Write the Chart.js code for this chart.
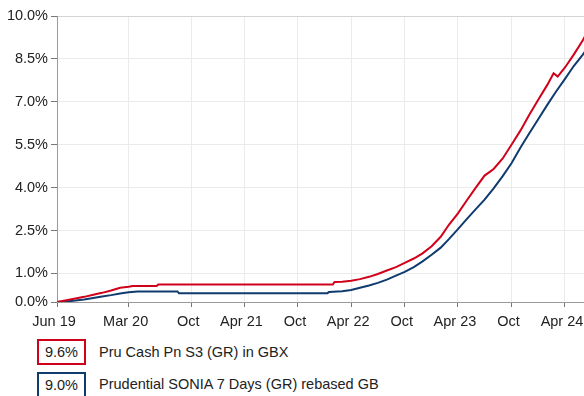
<!DOCTYPE html>
<html>
<head>
<meta charset="utf-8">
<script src="https://cdn.jsdelivr.net/npm/chart.js@4.4.1/dist/chart.umd.min.js"></script>
<style>
  html, body { margin: 0; padding: 0; background: #fff; overflow: hidden; }
  body { width: 584px; height: 396px; position: relative; font-family: "Liberation Sans", Arial, sans-serif; font-size: 14.5px; color: #222; }
  #wrap { position: absolute; left: 0; top: 0; width: 584px; height: 336px; }
  .box { position: absolute; left: 37px; width: 45px; height: 22px; border: 2px solid; text-align: right; box-sizing: content-box; }
  .box span { display: block; padding-right: 6px; line-height: 23px; }
  .lbl { position: absolute; left: 99px; line-height: 16px; white-space: nowrap; }
</style>
</head>
<body>
<div id="wrap"><canvas id="chart"></canvas></div>
<div class="box" id="box0" style="top:339px"><span id="val0"></span></div>
<div class="lbl" id="lbl0" style="top:344px"></div>
<div class="box" id="box1" style="top:372px"><span id="val1"></span></div>
<div class="lbl" id="lbl1" style="top:376px"></div>
<script>
// series names and colours
let seriesNames = ["Pru Cash Pn S3 (GR) in GBX", "Prudential SONIA 7 Days (GR) rebased GB"];
let seriesColors = ["#d0021b", "#0f3b6f"];

// Pru Cash Pn S3 (GR) in GBX, cumulative % growth
let redDates = [
  "2019-06-30", "2019-08-01", "2019-09-01", "2019-10-01", "2019-11-01", "2019-12-01",
  "2020-01-01", "2020-02-01", "2020-03-01", "2020-03-15", "2020-06-05", "2020-06-10",
  "2022-01-28", "2022-02-03", "2022-03-01", "2022-04-01", "2022-05-01", "2022-06-01",
  "2022-07-01", "2022-08-01", "2022-09-01", "2022-10-01", "2022-11-01", "2022-12-01",
  "2023-01-01", "2023-02-01", "2023-03-01", "2023-04-01", "2023-05-01", "2023-06-01",
  "2023-07-01", "2023-07-20", "2023-08-01", "2023-09-01", "2023-10-01", "2023-11-01",
  "2023-12-01", "2024-01-01", "2024-02-01", "2024-02-22", "2024-03-07", "2024-04-01",
  "2024-05-01", "2024-06-01", "2024-06-25"
];
let redValues = [
  0.00, 0.06, 0.12, 0.18, 0.25, 0.32,
  0.40, 0.50, 0.53, 0.56, 0.56, 0.61,
  0.61, 0.70, 0.71, 0.74, 0.80, 0.88,
  0.98, 1.10, 1.22, 1.37, 1.52, 1.70,
  1.95, 2.28, 2.70, 3.10, 3.55, 4.00,
  4.42, 4.56, 4.65, 5.02, 5.50, 6.00,
  6.55, 7.08, 7.60, 8.00, 7.88, 8.20,
  8.65, 9.15, 9.60
];

// Prudential SONIA 7 Days (GR) rebased, cumulative % growth
let blueDates = [
  "2019-06-30", "2019-08-01", "2019-09-01", "2019-10-01", "2019-11-01", "2019-12-01",
  "2020-01-01", "2020-02-01", "2020-03-01", "2020-04-01", "2020-08-15", "2020-08-20",
  "2022-01-10", "2022-01-15", "2022-03-01", "2022-04-01", "2022-05-01", "2022-06-01",
  "2022-07-01", "2022-08-01", "2022-09-01", "2022-10-01", "2022-11-01", "2022-12-01",
  "2023-01-01", "2023-02-01", "2023-03-01", "2023-04-01", "2023-05-01", "2023-06-01",
  "2023-07-01", "2023-08-01", "2023-09-01", "2023-10-01", "2023-11-01", "2023-12-01",
  "2024-01-01", "2024-02-01", "2024-03-01", "2024-04-01", "2024-05-01", "2024-06-01",
  "2024-06-25"
];
let blueValues = [
  0.00, 0.02, 0.05, 0.09, 0.14, 0.19,
  0.24, 0.30, 0.34, 0.37, 0.37, 0.31,
  0.31, 0.35, 0.38, 0.42, 0.50, 0.58,
  0.67, 0.78, 0.92, 1.05, 1.22, 1.42,
  1.65, 1.90, 2.20, 2.55, 2.90, 3.25,
  3.58, 3.97, 4.40, 4.85, 5.40, 5.90,
  6.40, 6.90, 7.35, 7.80, 8.25, 8.65,
  9.00
];

// axes
let xTickDates = ["2019-06-30", "2020-03-01", "2020-10-01", "2021-04-01", "2021-10-01",
                  "2022-04-01", "2022-10-01", "2023-04-01", "2023-10-01", "2024-04-01"];
let xTickLabels = ["Jun 19", "Mar 20", "Oct", "Apr 21", "Oct", "Apr 22", "Oct", "Apr 23", "Oct", "Apr 24"];
let xEndDate = "2024-06-05";
let yTicks = [0, 1, 2.5, 4, 5.5, 7, 8.5, 10];

let startDay = dayNum(redDates[0]);

function dayNum(s) {
  let p = s.split("-");
  return Date.UTC(+p[0], +p[1] - 1, +p[2]) / 86400000;
}

function toPoints(dates, values) {
  return dates.map((d, i) => ({x: dayNum(d) - startDay, y: values[i]}));
}

let xTickPos = xTickDates.map(d => dayNum(d) - startDay);

// legend below the chart
[redValues, blueValues].forEach((vals, i) => {
  document.getElementById("box" + i).style.borderColor = seriesColors[i];
  document.getElementById("val" + i).innerText = vals[vals.length - 1].toFixed(1) + "%";
  document.getElementById("lbl" + i).innerText = seriesNames[i];
});

let font = {family: "'Liberation Sans', Arial, sans-serif", size: 14.5};

new Chart(document.getElementById("chart"), {
  type: "line",
  data: {
    datasets: [
      {label: seriesNames[0], data: toPoints(redDates, redValues), borderColor: seriesColors[0], borderWidth: 2, pointRadius: 0, tension: 0},
      {label: seriesNames[1], data: toPoints(blueDates, blueValues), borderColor: seriesColors[1], borderWidth: 2, pointRadius: 0, tension: 0}
    ]
  },
  options: {
    responsive: true,
    maintainAspectRatio: false,
    animation: false,
    events: [],
    layout: {padding: {top: 16, right: 0, bottom: 0, left: 0}},
    plugins: {legend: {display: false}, tooltip: {enabled: false}},
    scales: {
      x: {
        type: "linear",
        min: 0,
        max: dayNum(xEndDate) - startDay,
        afterBuildTicks: s => { s.ticks = xTickPos.map(v => ({value: v})); },
        afterFit: s => { s.height = 34; s.paddingLeft = 0; s.paddingRight = 0; },
        ticks: {
          font: font, color: "#222", padding: 6, labelOffset: -3,
          maxRotation: 0, autoSkip: false,
          callback: (v, i) => xTickLabels[i]
        },
        grid: {color: "#ebebeb", tickColor: "#777", tickLength: 5},
        border: {color: "#9a9a9a", width: 1}
      },
      y: {
        min: 0,
        max: 10,
        afterBuildTicks: s => { s.ticks = yTicks.map(v => ({value: v})); },
        afterFit: s => { s.width = 57; },
        ticks: {
          font: font, color: "#222", padding: 3,
          callback: v => v.toFixed(1) + "%"
        },
        grid: {
          color: c => c.tick && c.tick.value === 10 ? "#d4d4d4" : "#ebebeb",
          tickColor: "#777", tickLength: 6
        },
        border: {color: "#9a9a9a", width: 1}
      }
    }
  }
});
</script>
</body>
</html>
